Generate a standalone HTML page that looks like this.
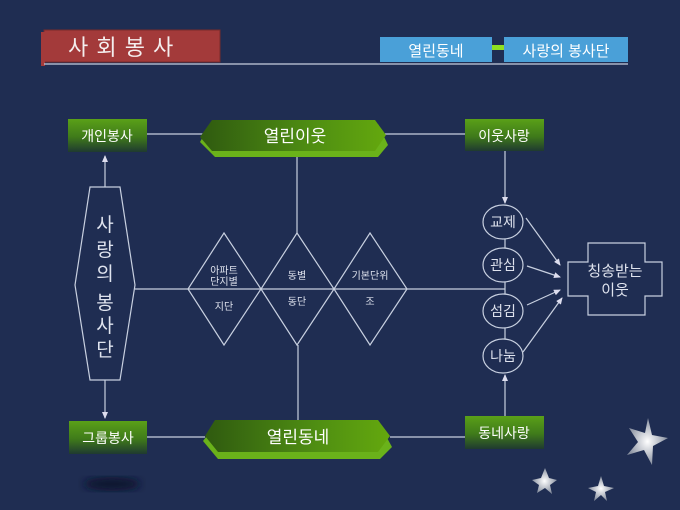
<!DOCTYPE html>
<html><head><meta charset="utf-8"><style>
html,body{margin:0;padding:0;background:#1f2d52;}
svg{display:block;}
text{font-family:"Liberation Sans","Noto Sans CJK KR",sans-serif;}
</style></head><body>
<svg width="680" height="510" viewBox="0 0 680 510" xmlns="http://www.w3.org/2000/svg">
<defs>
<linearGradient id="gb" x1="0" y1="0" x2="0" y2="1">
<stop offset="0" stop-color="#5aa018"/><stop offset="0.55" stop-color="#3f7a1a"/><stop offset="1" stop-color="#1f3a30"/></linearGradient>
<linearGradient id="hx" x1="0" y1="0" x2="1" y2="0">
<stop offset="0" stop-color="#2f5a10"/><stop offset="0.6" stop-color="#4f8e12"/><stop offset="1" stop-color="#64a80e"/></linearGradient>
<radialGradient id="st"><stop offset="0" stop-color="#ffffff"/><stop offset="1" stop-color="#8890a0"/></radialGradient>
<filter id="bl"><feGaussianBlur stdDeviation="4"/></filter>
<marker id="ar" markerWidth="8" markerHeight="8" refX="6" refY="3" orient="auto" markerUnits="userSpaceOnUse"><path d="M0,0 L7,3 L0,6 z" fill="#dde"/></marker>
</defs>
<rect width="680" height="510" fill="#1f2d52"/>
<!-- title -->
<rect x="44" y="30" width="176" height="32" fill="#a33a3a" stroke="#7a2a2a"/>
<rect x="41" y="32" width="4" height="34" fill="#a33a3a"/>
<text x="68" y="55" fill="#f4eeee" font-size="22" letter-spacing="1" font-family="'Noto Serif CJK SC',serif">사 회 봉 사</text>
<line x1="44" y1="64" x2="628" y2="64" stroke="#c8d0e0" stroke-width="1.2"/>
<rect x="380" y="37" width="112" height="25" fill="#4aa0d8"/>
<text x="436" y="56" fill="#fff" font-size="15" text-anchor="middle">열린동네</text>
<rect x="492" y="45" width="12" height="5" fill="#8fe020"/>
<rect x="504" y="37" width="124" height="25" fill="#4aa0d8"/>
<text x="566" y="56" fill="#fff" font-size="15" text-anchor="middle">사랑의 봉사단</text>
<!-- lines -->
<g stroke="#c8d0e0" stroke-width="1.2" fill="none">
<line x1="147" y1="134" x2="203" y2="134"/>
<line x1="385" y1="134" x2="465" y2="134"/>
<line x1="146" y1="437" x2="205" y2="437"/>
<line x1="390" y1="437" x2="465" y2="437"/>
<line x1="297" y1="152" x2="297" y2="233"/>
<line x1="298" y1="345" x2="298" y2="420"/>
<line x1="135" y1="289" x2="505" y2="289"/>
<line x1="505" y1="239" x2="505" y2="340"/>
<polygon points="90,187 120,187 135,285 120,380 90,380 75,285"/>
<polygon points="224,233 261,289 224,345 188,289"/>
<polygon points="297,233 334,289 297,345 261,289"/>
<polygon points="370,233 407,289 370,345 334,289"/>
<polygon points="588,243 645,243 645,262 662,262 662,296 645,296 645,315 588,315 588,296 568,296 568,262 588,262"/>
<line x1="105" y1="187" x2="105" y2="156" marker-end="url(#ar)"/>
<line x1="105" y1="380" x2="105" y2="418" marker-end="url(#ar)"/>
<line x1="505" y1="151" x2="505" y2="203" marker-end="url(#ar)"/>
<line x1="505" y1="416" x2="505" y2="375" marker-end="url(#ar)"/>
<line x1="526" y1="218" x2="560" y2="265" marker-end="url(#ar)"/>
<line x1="527" y1="266" x2="560" y2="277" marker-end="url(#ar)"/>
<line x1="527" y1="305" x2="560" y2="290" marker-end="url(#ar)"/>
<line x1="523" y1="352" x2="562" y2="298" marker-end="url(#ar)"/>
</g>
<g stroke="#c8d0e0" stroke-width="1.2" fill="#1f2d52">
<ellipse cx="503" cy="222" rx="20" ry="17"/>
<ellipse cx="503" cy="265" rx="20" ry="17"/>
<ellipse cx="503" cy="311" rx="20" ry="17"/>
<ellipse cx="503" cy="356" rx="20" ry="17"/>
</g>
<g fill="#dfe3ee" font-size="14" text-anchor="middle">
<text x="503" y="227">교제</text><text x="503" y="270">관심</text>
<text x="503" y="316">섬김</text><text x="503" y="361">나눔</text>
<text x="615" y="276" font-size="15">칭송받는</text><text x="615" y="295" font-size="15">이웃</text>
</g>
<g fill="#dfe3ee" font-size="10" text-anchor="middle">
<text x="224" y="274">아파트</text><text x="224" y="285">단지별</text>
<text x="224" y="310">지단</text>
<text x="297" y="279">동별</text><text x="297" y="305">동단</text>
<text x="370" y="279">기본단위</text><text x="370" y="305">조</text>
</g>
<g fill="#dfe3ee" font-size="19" text-anchor="middle">
<text x="105" y="231">사</text><text x="105" y="256">랑</text><text x="105" y="280">의</text>
<text x="105" y="309">봉</text><text x="105" y="332">사</text><text x="105" y="356">단</text>
</g>
<!-- green boxes -->
<rect x="68" y="119" width="79" height="33" fill="url(#gb)"/>
<text x="107" y="141" fill="#fff" font-size="14" text-anchor="middle">개인봉사</text>
<rect x="465" y="119" width="79" height="32" fill="url(#gb)"/>
<text x="504" y="141" fill="#fff" font-size="14" text-anchor="middle">이웃사랑</text>
<rect x="69" y="421" width="78" height="33" fill="url(#gb)"/>
<text x="108" y="443" fill="#fff" font-size="14" text-anchor="middle">그룹봉사</text>
<rect x="465" y="416" width="79" height="33" fill="url(#gb)"/>
<text x="504" y="438" fill="#fff" font-size="14" text-anchor="middle">동네사랑</text>
<!-- hexagons -->
<polygon points="200,142 215,157 378,157 388,145 378,124 210,124" fill="#6ab21a"/>
<polygon points="200,137 212,120 375,120 386,135 375,151 212,151" fill="url(#hx)"/>
<text x="295" y="142" fill="#fff" font-size="17" text-anchor="middle">열린이웃</text>
<polygon points="203,441 218,459 380,459 392,447 380,425 215,425" fill="#6ab21a"/>
<polygon points="205,436 215,420 378,420 390,436 378,452 218,452" fill="url(#hx)"/>
<text x="298" y="443" fill="#fff" font-size="17" text-anchor="middle">열린동네</text>
<!-- decorations -->
<ellipse cx="112" cy="484" rx="28" ry="7" fill="#0c1530" filter="url(#bl)"/>
<g fill="url(#st)">
<polygon points="648,418 652,435 668,438 653,446 652,465 644,450 627,455 638,442 629,428 645,433"/>
<polygon points="541,478 545,468 549,478 557,480 550,485 552,494 545,488 537,493 539,485 532,480" />
<polygon points="601,476 604,486 614,488 605,492 607,501 601,495 594,501 596,492 588,488 598,486"/>
</g>
</svg>
</body></html>
